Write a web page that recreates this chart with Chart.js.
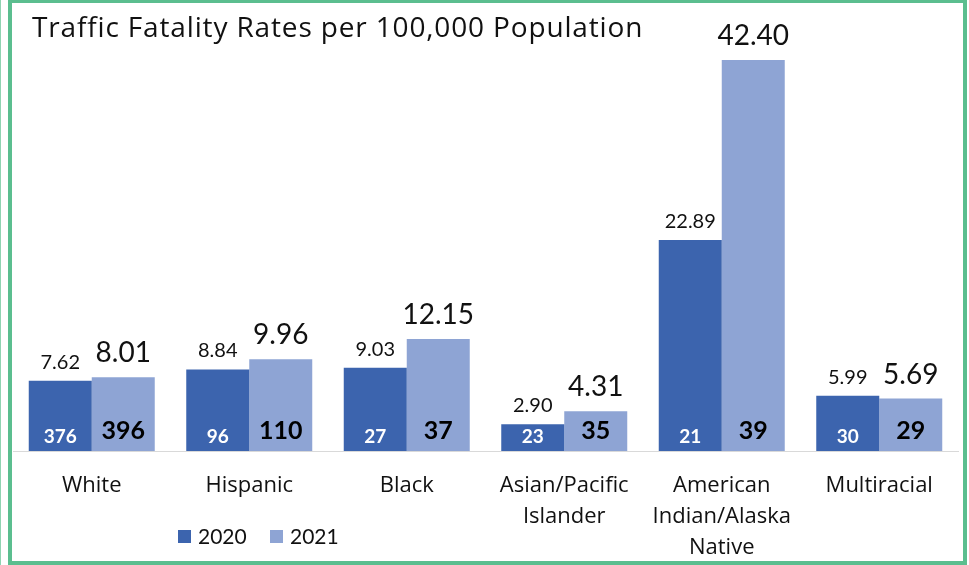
<!DOCTYPE html>
<html>
<head>
<meta charset="utf-8">
<script src="https://cdn.jsdelivr.net/npm/chart.js@4.4.1/dist/chart.umd.min.js"></script>
<style>
  html, body { margin: 0; padding: 0; background: #fff; }
  #wrap { position: relative; width: 969px; height: 565px; }
  #chart { position: absolute; left: 0; top: 0; }
  #frame {
    position: absolute; left: 8px; top: -1px; width: 959px; height: 566px;
    box-sizing: border-box; border: 4px solid #5bbe8f; pointer-events: none;
  }
  #edge { position: absolute; left: 0; top: 0; width: 1px; height: 565px; background: #8fd3b1; }
</style>
</head>
<body>
<div id="wrap">
  <canvas id="chart" width="969" height="565"></canvas>
  <div id="frame"></div>
  <div id="edge"></div>
</div>
<script>
/*
Chart data
*/
const groups = ["White", "Hispanic", "Black", ["Asian/Pacific", "Islander"], ["American", "Indian/Alaska", "Native"], "Multiracial"];
const years = ["2020", "2021"];
const rates2020 = [7.62, 8.84, 9.03, 2.90, 22.89, 5.99];
const rates2021 = [8.01, 9.96, 12.15, 4.31, 42.40, 5.69];
const deaths2020 = [376, 96, 27, 23, 21, 30];
const deaths2021 = [396, 110, 37, 35, 39, 29];

const NUM_FONT = "Lato, 'Open Sans', sans-serif";
const TEXT_FONT = "'Open Sans', Lato, sans-serif";
const dark = "#3c64ae";
const light = "#8ea4d4";

/*
Labels drawn on top of / inside the bars
*/
const barLabels = {
    id: "barLabels",
    afterDatasetsDraw(chart) {
        const ctx = chart.ctx;
        const counts = [deaths2020, deaths2021];
        ctx.save();
        ctx.textAlign = "center";
        ctx.textBaseline = "alphabetic";
        chart.data.datasets.forEach((ds, d) => {
            const meta = chart.getDatasetMeta(d);
            meta.data.forEach((bar, i) => {
                if (d == 0) {
                    ctx.font = `20px ${NUM_FONT}`;
                    ctx.fillStyle = "#111";
                    ctx.fillText(ds.data[i].toFixed(2), bar.x, bar.y - 12);
                    ctx.font = `bold 19px ${NUM_FONT}`;
                    ctx.fillStyle = "#fff";
                    ctx.fillText(counts[d][i], bar.x, bar.base - 8);
                } else {
                    ctx.font = `28px ${NUM_FONT}`;
                    ctx.fillStyle = "#111";
                    ctx.fillText(ds.data[i].toFixed(2), bar.x, bar.y - 15);
                    ctx.font = `bold 25px ${NUM_FONT}`;
                    ctx.fillStyle = "#000";
                    ctx.fillText(counts[d][i], bar.x, bar.base - 12);
                }
            });
        });
        ctx.restore();
    }
};

/*
Title and legend in the spots the original uses
*/
const titleAndLegend = {
    id: "titleAndLegend",
    afterDraw(chart) {
        const ctx = chart.ctx;
        ctx.save();
        ctx.fillStyle = "#111";
        ctx.textBaseline = "alphabetic";
        ctx.textAlign = "left";
        ctx.font = `28px ${TEXT_FONT}`;
        ctx.letterSpacing = "0.85px";
        ctx.fillText("Traffic Fatality Rates per 100,000 Population", 32, 37);
        ctx.letterSpacing = "0px";

        ctx.font = `21px ${NUM_FONT}`;
        let x = 178;
        chart.data.datasets.forEach((ds) => {
            ctx.fillStyle = ds.backgroundColor;
            ctx.fillRect(x, 530, 13, 13);
            ctx.fillStyle = "#111";
            ctx.fillText(ds.label, x + 20, 544);
            x += 92;
        });
        ctx.restore();
    }
};

const chart = new Chart(document.getElementById("chart"), {
    type: "bar",
    data: {
        labels: groups,
        datasets: [
            { label: years[0], data: rates2020, backgroundColor: dark },
            { label: years[1], data: rates2021, backgroundColor: light },
        ]
    },
    options: {
        responsive: false,
        animation: false,
        layout: { padding: { left: 13, right: 11, top: 36, bottom: 0 } },
        plugins: {
            legend: { display: false },
            title: { display: false },
            tooltip: { enabled: false }
        },
        datasets: {
            bar: { categoryPercentage: 0.8, barPercentage: 1.0 }
        },
        scales: {
            x: {
                grid: { display: false, drawTicks: false },
                border: { display: true, color: "#d9d9d9", width: 1 },
                ticks: {
                    color: "#111",
                    font: { family: TEXT_FONT, size: 22, lineHeight: 1.41 },
                    padding: 19,
                    maxRotation: 0,
                    autoSkip: false
                },
                afterFit(scale) { scale.height = 114; }
            },
            y: {
                display: false,
                min: 0,
                max: 45
            }
        }
    },
    plugins: [barLabels, titleAndLegend]
});
</script>
</body>
</html>
